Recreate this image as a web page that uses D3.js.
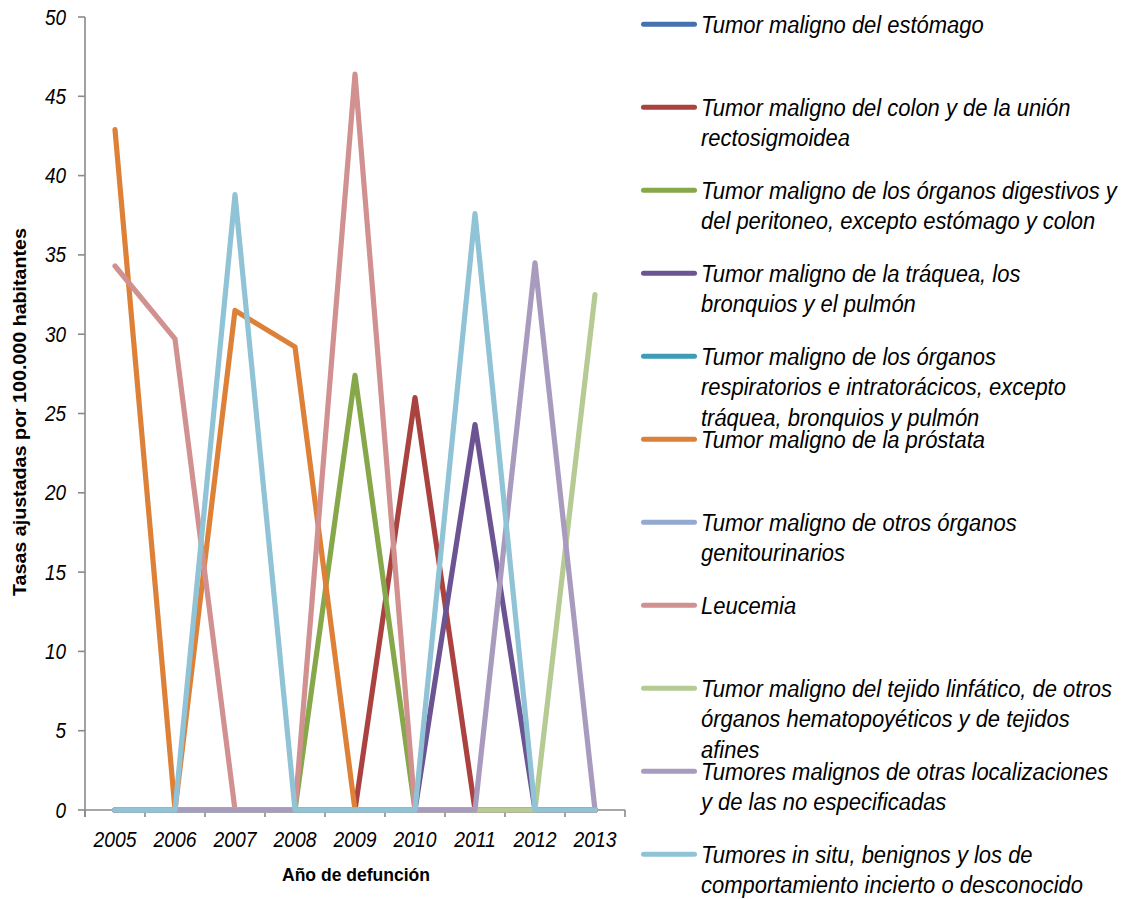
<!DOCTYPE html>
<html>
<head>
<meta charset="utf-8">
<script src="https://cdn.jsdelivr.net/npm/d3@7"></script>
<style>
  html, body { margin: 0; padding: 0; background: #ffffff; }
  svg { display: block; }
  text { font-family: "Liberation Sans", Arial, sans-serif; fill: #000; }
</style>
</head>
<body>
<svg id="chart" width="1122" height="899"></svg>
<script>
// ---- Data ----
const years = ["2005", "2006", "2007", "2008", "2009", "2010", "2011", "2012", "2013"];
const yTicks = [0, 5, 10, 15, 20, 25, 30, 35, 40, 45, 50];

const estomago        = [0, 0, 0, 0, 0, 0, 0, 0, 0];
const colon           = [0, 0, 0, 0, 0, 26.0, 0, 0, 0];
const digestivos      = [0, 0, 0, 0, 27.4, 0, 0, 0, 0];
const traquea         = [0, 0, 0, 0, 0, 0, 24.3, 0, 0];
const respiratorios   = [0, 0, 0, 0, 0, 0, 0, 0, 0];
const prostata        = [42.9, 0, 31.5, 29.2, 0, 0, 0, 0, 0];
const genitourinarios = [0, 0, 0, 0, 0, 0, 0, 0, 0];
const leucemia        = [34.3, 29.7, 0, 0, 46.4, 0, 0, 0, 0];
const linfatico       = [0, 0, 0, 0, 0, 0, 0, 0, 32.5];
const otras           = [0, 0, 0, 0, 0, 0, 0, 34.5, 0];
const insitu          = [0, 0, 38.8, 0, 0, 0, 37.6, 0, 0];

const seriesLabels = [
  ["Tumor maligno del estómago"],
  ["Tumor maligno del colon y de la unión", "rectosigmoidea"],
  ["Tumor maligno de los órganos digestivos y", "del peritoneo, excepto estómago y colon"],
  ["Tumor maligno de la tráquea, los", "bronquios y el pulmón"],
  ["Tumor maligno de los órganos", "respiratorios e intratorácicos, excepto", "tráquea, bronquios y pulmón"],
  ["Tumor maligno de la próstata"],
  ["Tumor maligno de otros órganos", "genitourinarios"],
  ["Leucemia"],
  ["Tumor maligno del tejido linfático, de otros", "órganos hematopoyéticos y de tejidos", "afines"],
  ["Tumores malignos de otras localizaciones", "y de las no especificadas"],
  ["Tumores in situ, benignos y los de", "comportamiento incierto o desconocido"]
];
const seriesValues = [estomago, colon, digestivos, traquea, respiratorios, prostata,
                      genitourinarios, leucemia, linfatico, otras, insitu];
const seriesColors = ["#4571AE", "#AA4240", "#86A84A", "#6C5392", "#3F9CB5", "#DE8138",
                      "#93A9CF", "#D09190", "#B6CB93", "#A89BBE", "#8FC3D5"];

const xTitle = "Año de defunción";
const yTitle = "Tasas ajustadas por 100.000 habitantes";

// ---- Layout ----
const svg = d3.select("#chart");
const plot = { left: 85, right: 625, top: 17, bottom: 810 };
const axisColor = "#8a8a8a";
const sx = 0.88; // horizontal condensation of the text

const x = d3.scaleBand().domain(years).range([plot.left, plot.right]).padding(0);
const y = d3.scaleLinear().domain([0, 50]).range([plot.bottom, plot.top]);
const cx = d => x(d) + x.bandwidth() / 2;

// ---- Axes ----
const axes = svg.append("g");
axes.append("line")
  .attr("x1", plot.left).attr("x2", plot.left)
  .attr("y1", y(50)).attr("y2", y(0) + 7)
  .attr("stroke", axisColor).attr("stroke-width", 1.6);
axes.selectAll(".ytick").data(yTicks).enter().append("line")
  .attr("x1", plot.left - 7).attr("x2", plot.left)
  .attr("y1", d => y(d)).attr("y2", d => y(d))
  .attr("stroke", axisColor).attr("stroke-width", 1.6);
axes.selectAll(".ylab").data(yTicks).enter().append("text")
  .attr("transform", d => `translate(66,${y(d) + 7.5}) scale(${sx},1)`)
  .attr("text-anchor", "end")
  .attr("font-style", "italic")
  .attr("font-size", 21.5)
  .text(d => d);

axes.append("line")
  .attr("x1", plot.left).attr("x2", plot.right)
  .attr("y1", y(0)).attr("y2", y(0))
  .attr("stroke", axisColor).attr("stroke-width", 1.6);
const boundaries = years.map(d => x(d)).concat([x.range()[1]]);
axes.selectAll(".xtick").data(boundaries).enter().append("line")
  .attr("x1", d => d).attr("x2", d => d)
  .attr("y1", y(0)).attr("y2", y(0) + 7)
  .attr("stroke", axisColor).attr("stroke-width", 1.6);
axes.selectAll(".xlab").data(years).enter().append("text")
  .attr("transform", d => `translate(${cx(d)},847) scale(${sx},1)`)
  .attr("text-anchor", "middle")
  .attr("font-style", "italic")
  .attr("font-size", 22)
  .text(d => d);

svg.append("text")
  .attr("x", 356).attr("y", 881)
  .attr("text-anchor", "middle")
  .attr("font-weight", "bold")
  .attr("font-size", 18)
  .attr("textLength", 148).attr("lengthAdjust", "spacingAndGlyphs")
  .text(xTitle);
svg.append("text")
  .attr("transform", "translate(26,412) rotate(-90)")
  .attr("text-anchor", "middle")
  .attr("font-weight", "bold")
  .attr("font-size", 18)
  .attr("textLength", 368).attr("lengthAdjust", "spacingAndGlyphs")
  .text(yTitle);

// ---- Lines ----
const line = d3.line().x((v, i) => cx(years[i])).y(v => y(v));
svg.append("g").selectAll("path").data(seriesValues).enter().append("path")
  .attr("d", d => line(d))
  .attr("fill", "none")
  .attr("stroke", (d, i) => seriesColors[i])
  .attr("stroke-width", 5.2)
  .attr("stroke-linejoin", "round")
  .attr("stroke-linecap", "round");

// ---- Legend ----
const legendTop = 24.3, legendStep = 83;
const lg = svg.append("g").selectAll("g").data(seriesLabels).enter().append("g")
  .attr("transform", (d, i) => `translate(0,${legendTop + i * legendStep})`);
lg.append("line")
  .attr("x1", 643.5).attr("x2", 694.5).attr("y1", 0).attr("y2", 0)
  .attr("stroke", (d, i) => seriesColors[i])
  .attr("stroke-width", 5)
  .attr("stroke-linecap", "round");
lg.each(function(lines) {
  const g = d3.select(this);
  lines.forEach((t, j) => {
    g.append("text")
      .attr("transform", `translate(701,${8.7 + j * 30.3}) scale(0.915,1)`)
      .attr("font-style", "italic")
      .attr("font-size", 24)
      .text(t);
  });
});
</script>
</body>
</html>
